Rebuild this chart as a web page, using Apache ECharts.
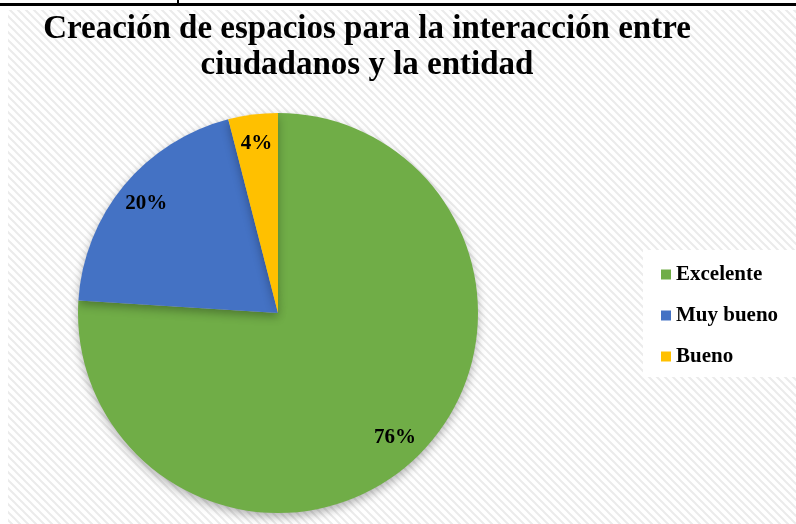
<!DOCTYPE html>
<html>
<head>
<meta charset="utf-8">
<script src="https://cdn.jsdelivr.net/npm/echarts@6/dist/echarts.min.js"></script>
<style>
  html, body { margin: 0; padding: 0; background: #fff; }
  #chart { width: 796px; height: 524px; }
</style>
</head>
<body>
<div id="chart"></div>
<script>
var titleText = 'Creación de espacios para la interacción entre\nciudadanos y la entidad';
var categories = ['Excelente', 'Muy bueno', 'Bueno'];
var values = [76, 20, 4];
var colors = ['#70AD47', '#4472C4', '#FFC000'];

var makeStripes = function () {
    /*diagonal light gray stripes for the background*/
    var c = document.createElement('canvas');
    c.width = 8;
    c.height = 8;
    var ctx = c.getContext('2d');
    ctx.fillStyle = '#ffffff';
    ctx.fillRect(0, 0, 8, 8);
    ctx.strokeStyle = '#ebebeb';
    ctx.lineWidth = 2;
    ctx.beginPath();
    ctx.moveTo(-2, -2); ctx.lineTo(10, 10);
    ctx.moveTo(-10, -2); ctx.lineTo(2, 10);
    ctx.moveTo(6, -2); ctx.lineTo(18, 10);
    ctx.stroke();
    return c;
};

var seriesData = [];
categories.forEach(function (name, i) {
    seriesData.push({ value: values[i], name: name, itemStyle: { color: colors[i] } });
});

var myChart = echarts.init(document.getElementById('chart'));
var option = {
    backgroundColor: '#fff',
    graphic: [
        { type: 'rect', z: -10, silent: true,
          shape: { x: 8, y: 10, width: 788, height: 514 },
          style: { fill: { image: makeStripes(), repeat: 'repeat' } } },
        { type: 'rect', silent: true,
          shape: { x: 0, y: 3, width: 796, height: 3 },
          style: { fill: '#000' } },
        { type: 'rect', silent: true,
          shape: { x: 177, y: 0, width: 2, height: 4 },
          style: { fill: '#000' } }
    ],
    title: {
        text: titleText,
        left: 362,
        top: 6,
        textAlign: 'center',
        textStyle: {
            fontFamily: 'Liberation Serif',
            fontWeight: 'bold',
            fontSize: 33,
            lineHeight: 36,
            color: '#000'
        }
    },
    legend: {
        orient: 'vertical',
        left: 643,
        top: 250,
        padding: [14, 30, 10, 18],
        backgroundColor: '#fff',
        itemWidth: 10,
        itemHeight: 10,
        itemGap: 20,
        icon: 'rect',
        data: categories,
        textStyle: {
            fontFamily: 'Liberation Serif',
            fontWeight: 'bold',
            fontSize: 21,
            color: '#000'
        }
    },
    series: [
        {
            name: 'main',
            type: 'pie',
            center: [278, 313],
            radius: 200,
            startAngle: 90,
            clockwise: true,
            silent: true,
            label: { show: false },
            labelLine: { show: false },
            itemStyle: {
                shadowBlur: 10,
                shadowOffsetY: 4,
                shadowColor: 'rgba(0,0,0,0.3)'
            },
            data: seriesData
        },
        {
            /*transparent ring only to place the labels further out*/
            name: 'labels',
            type: 'pie',
            center: [278, 313],
            radius: [136, 200],
            startAngle: 90,
            clockwise: true,
            silent: true,
            legendHoverLink: false,
            itemStyle: { color: 'rgba(0,0,0,0)' },
            label: {
                show: true,
                position: 'inside',
                formatter: '{c}%',
                fontFamily: 'Liberation Serif',
                fontWeight: 'bold',
                fontSize: 21,
                color: '#000'
            },
            labelLine: { show: false },
            data: categories.map(function (name, i) {
                return { value: values[i], name: name };
            })
        }
    ]
};
myChart.setOption(option);
</script>
</body>
</html>
